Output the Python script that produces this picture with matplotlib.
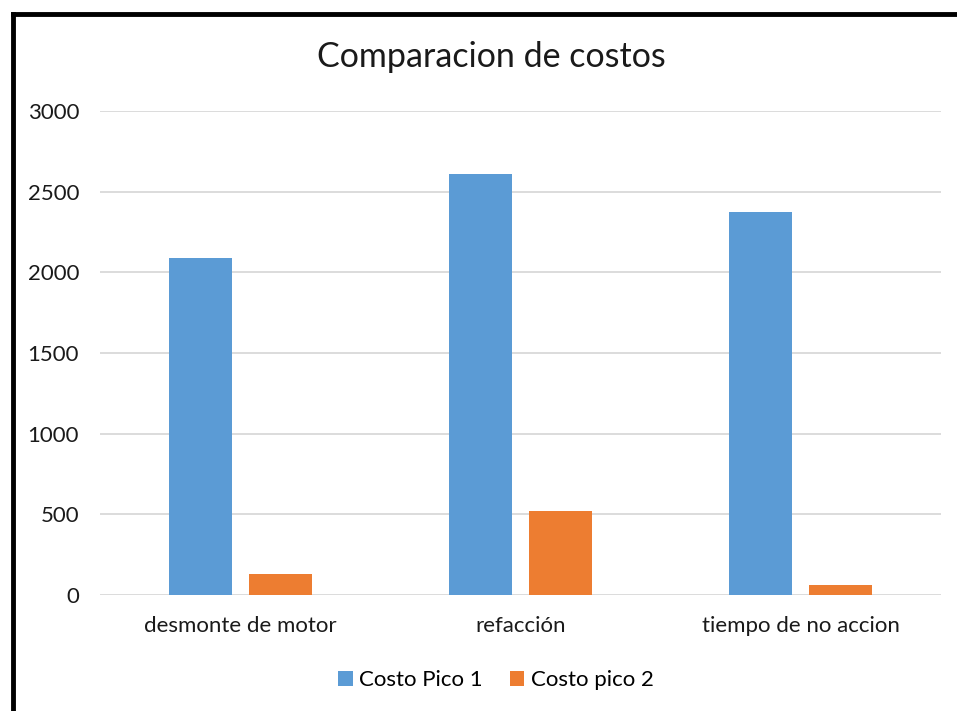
import matplotlib.pyplot as plt
import numpy as np
from matplotlib.lines import Line2D

categories = ["desmonte de motor", "refacción", "tiempo de no accion"]
series_names = ["Costo Pico 1", "Costo pico 2"]
costo_pico_1 = [2087, 2608, 2373]
costo_pico_2 = [128, 521, 62]
y_ticks = [0, 500, 1000, 1500, 2000, 2500, 3000]

BLUE = "#5B9BD5"
ORANGE = "#ED7D31"
GRID = "#D9D9D9"

plt.rcParams["font.family"] = ["Lato", "DejaVu Sans"]

W, H = 957, 711
fig = plt.figure(figsize=(W / 100, H / 100), dpi=100)
ax = fig.add_axes([100 / W, 1 - 595 / H, 841 / W, 484 / H])

x = np.arange(len(categories))
width = 0.225
ax.bar(x - 0.143, costo_pico_1, width, color=BLUE, label=series_names[0], zorder=3)
ax.bar(x + 0.143, costo_pico_2, width, color=ORANGE, label=series_names[1], zorder=3)

ax.set_xlim(-0.5, len(categories) - 0.5)
ax.set_ylim(0, 3000)
ax.set_yticks(y_ticks)
ax.set_xticks(x)
ax.set_xticklabels(categories, fontsize=16, color="#1a1a1a")
ax.tick_params(axis="y", labelsize=16, labelcolor="#1a1a1a", length=0, pad=15)
ax.tick_params(axis="x", length=0, pad=15)
ax.grid(axis="y", color=GRID, linewidth=1.3, zorder=0)
for s in ax.spines.values():
    s.set_visible(False)

fig.text(491 / W, 1 - 57 / H, "Comparacion de costos", ha="center", va="center",
         fontsize=24.5, color="#1a1a1a")

fig.legend(loc="center", bbox_to_anchor=(496 / W, 1 - 680 / H), ncol=2, frameon=False,
           fontsize=16, handlelength=0.65, handleheight=0.65, columnspacing=1.2,
           handletextpad=0.3)

# black frame, only left and top edges visible
fig.add_artist(Line2D([13 / W, 13 / W], [-0.05, 1 - 14 / H], transform=fig.transFigure,
                      color="black", linewidth=3.5, solid_capstyle="projecting"))
fig.add_artist(Line2D([13 / W, 1.05], [1 - 14 / H, 1 - 14 / H], transform=fig.transFigure,
                      color="black", linewidth=3.5, solid_capstyle="projecting"))

fig.savefig("out.png", dpi=100)
